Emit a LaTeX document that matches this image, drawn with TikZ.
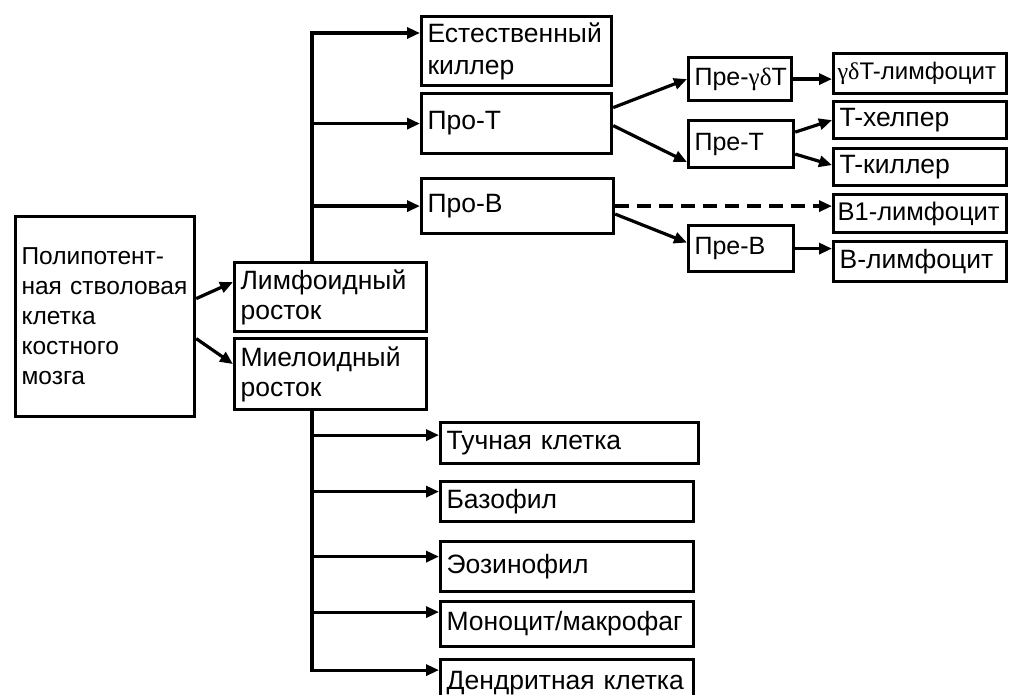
\documentclass[tikz,border=0pt]{standalone}
\usepackage{fontspec}
\setmainfont{Liberation Sans}
\newfontfamily\grk{Liberation Serif}
\usetikzlibrary{arrows.meta}
\hyphenpenalty=10000
\exhyphenpenalty=10000

\begin{document}
\begin{tikzpicture}[x=1pt, y=-1pt,
  box/.style={draw, line width=3.2pt, anchor=north west, align=left,
              inner xsep=6pt, inner ysep=0pt,
              font=\fontsize{26.5}{30}\selectfont},
  pre/.style={box, font=\fontsize{25}{30}\selectfont},
  line/.style={line width=3.2pt},
  arr/.style={line, -{Triangle[length=13pt, width=11pt]}},
]
  \useasboundingbox (0,0) rectangle (1009,695);

  % stem cell and the two lineages
  \node[box, font=\fontsize{24.5}{30}\selectfont, text width=167pt,
        minimum height=200pt] (stem) at (14,215)
    {Полипотент-\\ная стволовая\\клетка\\костного\\мозга};
  \node[box, text width=180pt, minimum height=69pt] (lymph) at (233,261) {Лимфоидный\\росток};
  \node[box, text width=180pt, minimum height=71pt] (myelo) at (233,337) {Миелоидный\\росток};

  % lymphoid branch
  \node[box, font=\fontsize{26.5}{32}\selectfont, text width=178pt,
        minimum height=69pt] (nk) at (420,15) {Естественный\\киллер};
  \node[box, text width=178pt, minimum height=60pt] (proT) at (420,92) {Про-T};
  \node[box, text width=180pt, minimum height=55pt] (proB) at (420,177) {Про-B};
  \node[pre, text width=91pt, minimum height=43pt] (preGD) at (687,56) {Пре-{\grk γδ}T};
  \node[pre, text width=93pt, minimum height=47pt] (preT) at (687,119) {Пре-T};
  \node[pre, text width=93pt, minimum height=46pt] (preB) at (687,224) {Пре-B};
  \node[pre, inner xsep=4pt, font=\fontsize{24}{30}\selectfont, text width=165pt,
        minimum height=40pt] (gdT) at (832,52) {{\grk γδ}T-лимфоцит};
  \node[box, text width=161pt, minimum height=37pt] (th) at (832,100) {T-хелпер};
  \node[box, text width=161pt, minimum height=37pt] (tk) at (832,147) {T-киллер};
  \node[box, inner xsep=4pt, font=\fontsize{25.5}{30}\selectfont, text width=165pt,
        minimum height=38pt] (b1) at (832,193) {B1-лимфоцит};
  \node[box, text width=161pt, minimum height=40pt] (bl) at (832,240) {B-лимфоцит};

  % myeloid branch
  \node[box, text width=246pt, minimum height=41pt] (mast) at (439,421) {Тучная клетка};
  \node[box, text width=241pt, minimum height=40pt] (baso) at (439,480) {Базофил};
  \node[box, text width=241pt, minimum height=50pt] (eos) at (439,540) {Эозинофил};
  \node[box, text width=241pt, minimum height=45pt] (mono) at (439,600) {Моноцит/макрофаг};
  \node[box, text width=241pt, minimum height=47pt] (dend) at (439,658) {Дендритная клетка};

  \coordinate (ltop) at (312,33);

  \draw[arr] ([yshift=18pt]stem.east) -- ([yshift=15pt]lymph.west);
  \draw[arr] ([yshift=-22pt]stem.east) -- ([yshift=10pt]myelo.west);

  \draw[arr] (lymph.north -| ltop) -- (ltop) -- (ltop -| nk.west);
  \draw[arr] (proT.west -| ltop) -- (proT.west);
  \draw[arr] (proB.west -| ltop) -- (proB.west);

  \draw[arr] ([yshift=16pt]proT.east) -- (preGD.west);
  \draw[arr] ([yshift=-2pt]proT.east) -- ([yshift=-18pt]preT.west);
  \draw[arr] (preGD.east) -- (preGD.east -| gdT.west);
  \draw[arr] ([yshift=12pt]preT.east) -- (th.west);
  \draw[arr] ([yshift=-10pt]preT.east) -- ([yshift=2pt]tk.west);
  \draw[arr, dash pattern=on 14pt off 8pt] (proB.east) -- (proB.east -| b1.west);
  \draw[arr] ([yshift=-8pt]proB.east) -- ([yshift=6pt]preB.west);
  \draw[arr] (preB.east) -- (preB.east -| bl.west);

  \draw[arr] (myelo.south -| ltop) |- ([yshift=13pt]dend.west);
  \foreach \n/\d in {mast/8,baso/10,eos/10,mono/12}
    \draw[arr] ([yshift=\d pt]\n.west -| ltop) -- ([yshift=\d pt]\n.west);
\end{tikzpicture}
\end{document}
